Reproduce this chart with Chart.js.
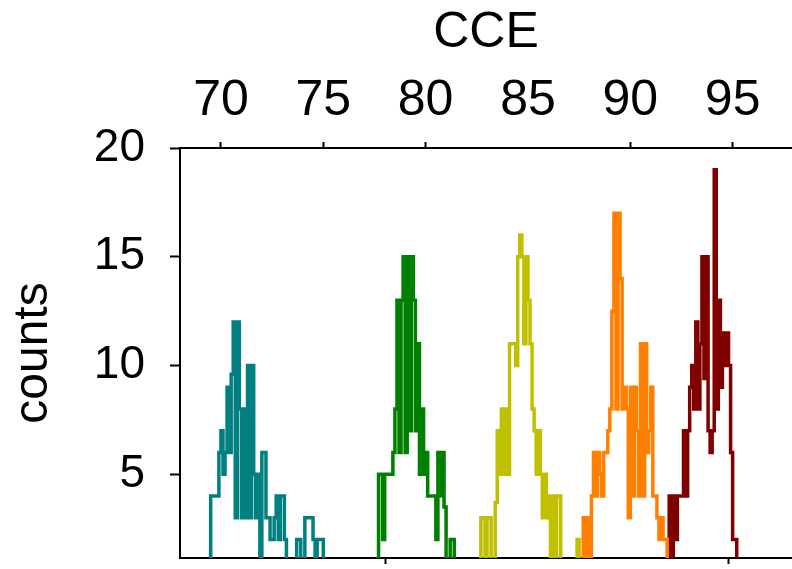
<!DOCTYPE html>
<html lang="en">
<head>
  <meta charset="UTF-8" />
  <title>CCE histograms</title>
  <script src="https://cdn.jsdelivr.net/npm/chart.js"></script>
  <style>
    body {
      margin: 0;
      background-color: #ffffff;
      overflow: hidden;
    }
    #cceChart {
      display: block;
    }
  </style>
</head>
<body>
  <canvas id="cceChart" width="792" height="569"></canvas>

  <script>
    // histogram bins are 0.1 CCE wide, each series starts at its own left edge
    const binWidth = 0.1;

    const tealStart = 69.0;
    const tealCounts = [0, 1, 1, 1, 1, 4, 4, 4, 4, 6, 7, 5, 6, 9, 6, 9.6, 12, 3, 12, 8, 3, 8, 3, 10, 3, 10,
      5, 3, 5, 0, 6, 6, 3, 3, 2, 2, 3, 4, 2, 4, 4, 2, 0, 0, 0, 0, 0, 2, 2, 0, 0, 3, 3, 3, 3, 2, 0, 2, 2, 2, 0];

    const greenStart = 77.4;
    const greenCounts = [1, 1, 1, 5, 5, 2, 5, 5, 5, 5, 6, 8, 13, 6, 13, 15, 6, 15, 7, 15, 13, 7, 11, 5, 8, 5,
      6, 4, 4, 4, 4, 2, 6, 4, 6, 3.5, 0, 0, 2, 2, 0];

    const yellowStart = 82.6;
    const yellowCounts = [0, 3, 3, 0, 3, 3, 0, 0, 3.7, 7, 5, 8, 5, 8, 5, 11, 11, 11, 10, 15, 16, 15, 11, 15, 13,
      11, 8, 7, 5, 7, 5, 3, 5, 3, 4, 0, 4, 0, 4, 4, 0, 0, 0, 0, 0, 0, 0, 0, 2, 0];

    const orangeStart = 87.6;
    const orangeCounts = [0, 3, 1, 3, 0, 4, 6, 4, 6, 5, 4, 6, 6, 7, 8, 12.5, 17, 8, 17, 14, 8, 9, 8, 3, 9, 4,
      9, 7, 4, 11, 4, 11, 6, 7, 9, 4, 4, 3, 2, 3, 2, 2, 0];

    const redStart = 91.8;
    const redCounts = [0, 4, 0, 4, 2, 4, 4, 4, 7, 4, 7, 9, 10, 8, 12, 8, 11, 15, 9.4, 15, 7, 6, 7, 19, 8, 13,
      9, 11.5, 10, 11.5, 10, 6, 2, 2, 0, 0, 0, 0, 0, 0, 1, 0];

    const xTicks = [70, 75, 80, 85, 90, 95];
    const bottomTicks = [78.05, 94.82];
    const yTicks = [5, 10, 15, 20];

    const fontFamily = '"Liberation Sans", Arial, Helvetica, sans-serif';

    function toSteps(start, counts) {
      const pts = counts.map((c, i) => ({ x: start + i * binWidth, y: c }));
      pts.push({ x: start + counts.length * binWidth, y: 0 });
      return pts;
    }

    function histo(start, counts, color) {
      return {
        data: toSteps(start, counts),
        borderColor: color,
        borderWidth: 3.5,
        stepped: 'before',
        pointRadius: 0,
        fill: false
      };
    }

    // fixed box sizes, and no extra room for the end labels
    function fixSize(s, w, h) {
      if (w) s.width = w;
      if (h) s.height = h;
      s.paddingTop = 0;
      s.paddingBottom = 0;
      s.paddingLeft = 0;
      s.paddingRight = 0;
    }

    const ctx = document.getElementById('cceChart').getContext('2d');
    new Chart(ctx, {
      type: 'line',
      data: {
        datasets: [
          histo(tealStart, tealCounts, '#008080'),
          histo(greenStart, greenCounts, '#008000'),
          histo(yellowStart, yellowCounts, '#c0c000'),
          histo(orangeStart, orangeCounts, '#ff8000'),
          histo(redStart, redCounts, '#800000')
        ]
      },
      options: {
        responsive: false,
        animation: false,
        devicePixelRatio: 1,
        layout: { padding: 0, autoPadding: false },
        plugins: {
          legend: { display: false },
          tooltip: { enabled: false }
        },
        scales: {
          x: {
            type: 'linear',
            position: 'top',
            min: 68,
            max: 97.9,
            afterBuildTicks: s => { s.ticks = xTicks.map(v => ({ value: v })); },
            afterFit: s => fixSize(s, 0, 148),
            grid: {
              drawOnChartArea: false,
              tickLength: 6,
              tickWidth: 2,
              // the original has no tick mark under 85
              tickColor: c => (c.tick && c.tick.value === 85 ? 'rgba(0,0,0,0)' : '#000')
            },
            border: { color: '#000', width: 2 },
            ticks: {
              color: '#000',
              font: { family: fontFamily, size: 50 },
              padding: 11,
              maxRotation: 0,
              autoSkip: false
            },
            title: {
              display: true,
              text: 'CCE',
              color: '#000',
              font: { family: fontFamily, size: 50 },
              padding: { top: 3, bottom: 0 }
            }
          },
          x2: {
            type: 'linear',
            position: 'bottom',
            min: 68,
            max: 97.9,
            afterBuildTicks: s => { s.ticks = bottomTicks.map(v => ({ value: v })); },
            afterFit: s => fixSize(s, 0, 11),
            grid: { drawOnChartArea: false, tickLength: 6, tickWidth: 2, tickColor: '#000' },
            border: { color: '#000', width: 2 },
            ticks: { display: false }
          },
          y: {
            type: 'linear',
            position: 'left',
            min: 1.15,
            max: 20,
            afterBuildTicks: s => { s.ticks = yTicks.map(v => ({ value: v })); },
            afterFit: s => fixSize(s, 180, 0),
            grid: { drawOnChartArea: false, tickLength: 10, tickWidth: 2, tickColor: '#000' },
            border: { color: '#000', width: 2 },
            ticks: {
              color: '#000',
              font: { family: fontFamily, size: 46 },
              padding: 25
            },
            title: {
              display: true,
              text: 'counts',
              color: '#000',
              font: { family: fontFamily, size: 48 },
              padding: { top: 5, bottom: 0 }
            }
          }
        }
      }
    });
  </script>
</body>
</html>
